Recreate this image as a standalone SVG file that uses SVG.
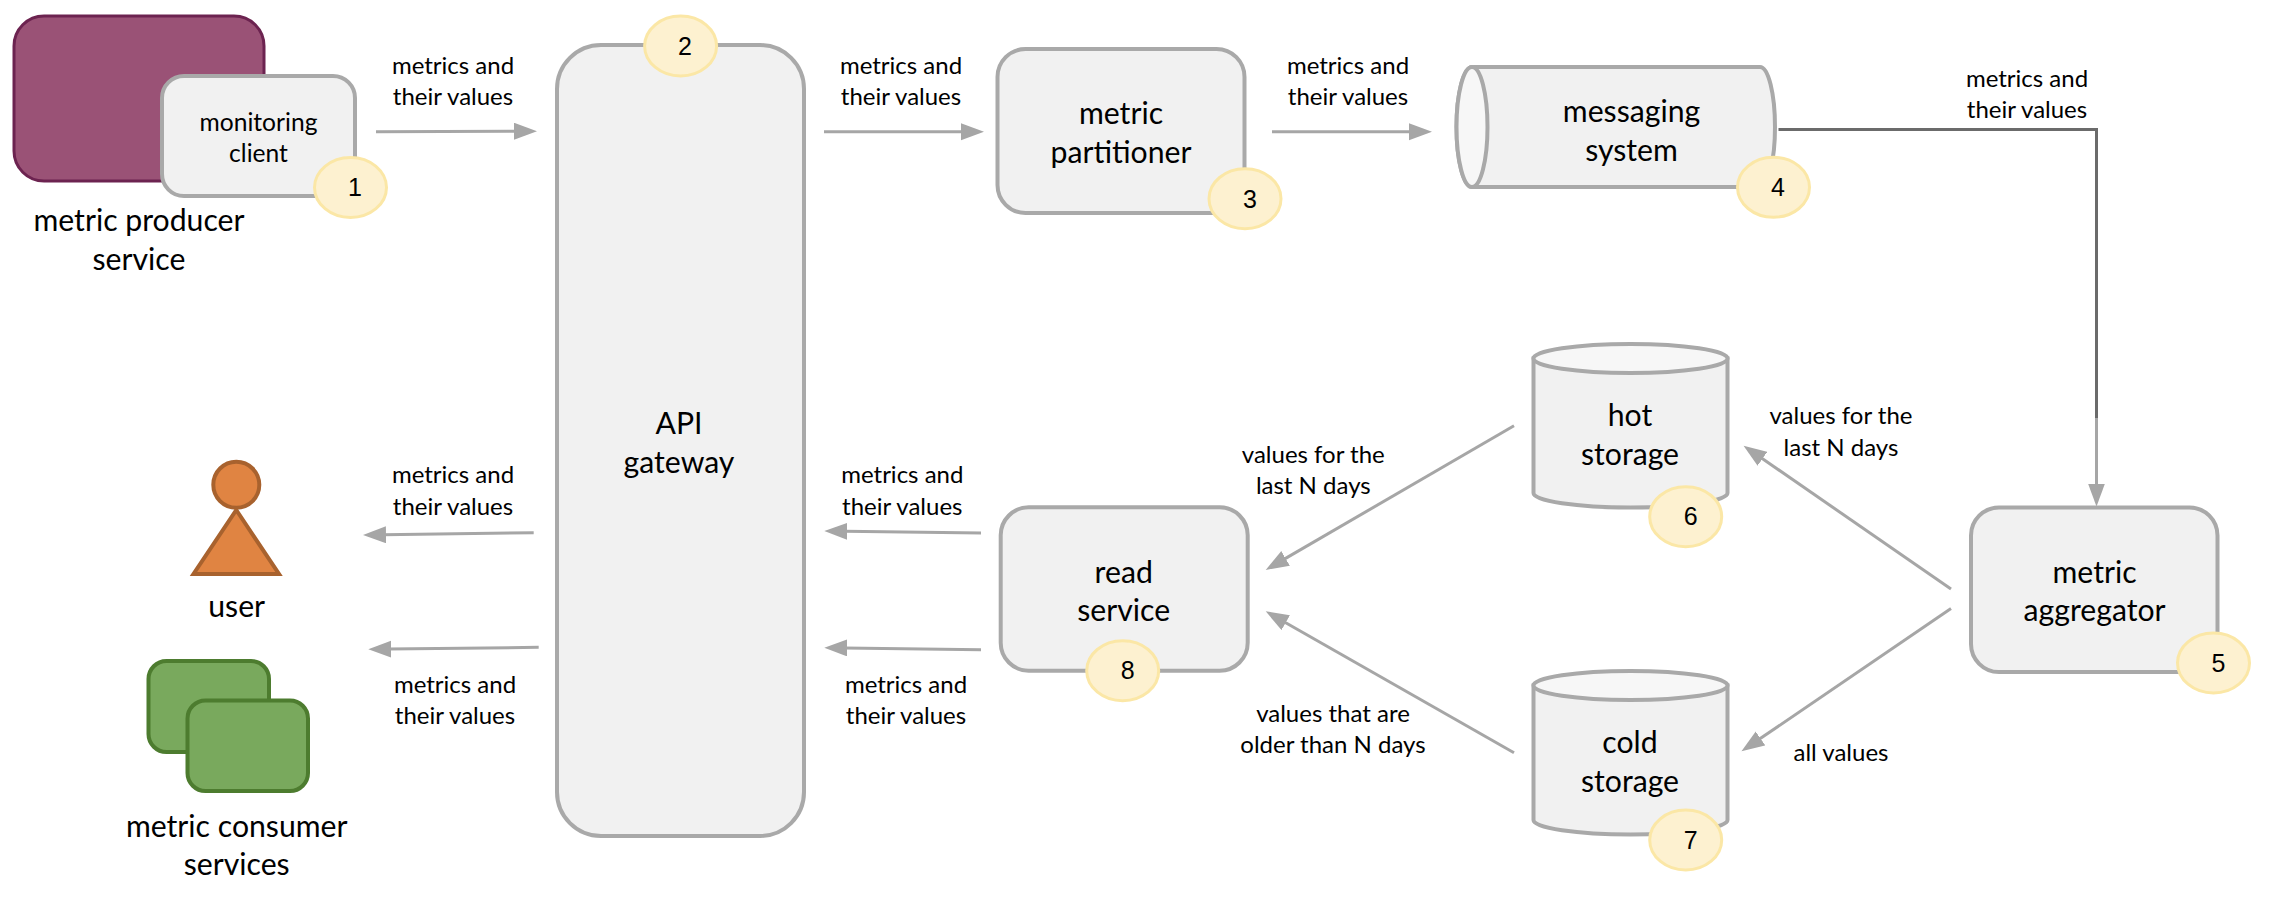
<svg xmlns="http://www.w3.org/2000/svg" width="2270" height="910" viewBox="0 0 2270 910">
<style>
text{font-family:Lato,"Liberation Sans",sans-serif;fill:#000;text-anchor:middle}
.s{font-size:24px}
.b{font-size:30.2px}
.m{font-size:24.6px}
.d{font-family:"Liberation Sans",Arial,sans-serif;font-size:25px}
.box{fill:#f1f1f1;stroke:#a9a9a9;stroke-width:4}
.cap{fill:#f7f7f7;stroke:#a9a9a9;stroke-width:4}
.badge{fill:#fdf1d0;stroke:#fbe7a6;stroke-width:3}
.c{fill:none;stroke:#a6a6a6;stroke-width:3;marker-end:url(#arrow)}
.purple{fill:#9a5276;stroke:#6c2350;stroke-width:3}
.green{fill:#79a95d;stroke:#4d7c2f;stroke-width:4}
.orange{fill:#e08442;stroke:#a8622e;stroke-width:4}
</style>
<defs>
<marker id="arrow" markerUnits="userSpaceOnUse" markerWidth="24" markerHeight="18" refX="3" refY="8.5" orient="auto">
<path d="M0,0 L23,8.5 L0,17Z" fill="#a6a6a6"/>
</marker>
</defs>
<g id="connectors">
<path class="c" d="M376,131.7 L517,131.2"/>
<path class="c" d="M824,131.7 L964,131.7"/>
<path class="c" d="M1272,131.7 L1412,131.7"/>
<path d="M1778.5,129.5 H2096.5 V420" fill="none" stroke="#6b6b6b" stroke-width="3"/>
<path class="c" d="M2096.5,418 V486.5"/>
<path class="c" d="M1951,589 L1760,457"/>
<path class="c" d="M1951,608.6 L1758,740.1"/>
<path class="c" d="M1514,425.7 L1283,559.9"/>
<path class="c" d="M1514,752.7 L1283.1,621.2"/>
<path class="c" d="M981,533 L844.3,531.2"/>
<path class="c" d="M981,649.7 L844.3,647.9"/>
<path class="c" d="M533.7,532.7 L383,534.8"/>
<path class="c" d="M538.7,647.3 L388.3,649.1"/>
</g>
<g id="labels">
<text class="s" x="453" y="73.5">metrics and</text><text class="s" x="453" y="104.5">their values</text>
<text class="s" x="901" y="73.5">metrics and</text><text class="s" x="901" y="104.5">their values</text>
<text class="s" x="1348" y="73.5">metrics and</text><text class="s" x="1348" y="104.5">their values</text>
<text class="s" x="2027" y="87">metrics and</text><text class="s" x="2027" y="118">their values</text>
<text class="s" x="453" y="482.5">metrics and</text><text class="s" x="453" y="514.5">their values</text>
<text class="s" x="455" y="692.5">metrics and</text><text class="s" x="455" y="724">their values</text>
<text class="s" x="902.3" y="482.5">metrics and</text><text class="s" x="902.3" y="514.5">their values</text>
<text class="s" x="906" y="692.5">metrics and</text><text class="s" x="906" y="724">their values</text>
<text class="s" x="1313.3" y="462.5">values for the</text><text class="s" x="1313.3" y="494">last N days</text>
<text class="s" x="1333" y="722">values that are</text><text class="s" x="1333" y="753">older than N days</text>
<text class="s" x="1841" y="424">values for the</text><text class="s" x="1841" y="455.5">last N days</text>
<text class="s" x="1841" y="761">all values</text>
</g>
<g id="producer">
<rect class="purple" x="14" y="16" width="250" height="165" rx="30" ry="30"/>
<text class="b" x="139" y="230.5">metric producer</text><text class="b" x="139" y="269.5">service</text>
</g>
<g id="client">
<rect class="box" x="162" y="76" width="193" height="120" rx="22" ry="22"/>
<text class="m" x="258.5" y="130.5">monitoring</text><text class="m" x="258.5" y="161.5">client</text>
<ellipse class="badge" cx="350.5" cy="187.5" rx="36" ry="30"/><text class="d" x="355" y="196">1</text>
</g>
<g id="gateway">
<rect class="box" x="557" y="45" width="247" height="791" rx="44" ry="44"/>
<text class="b" x="679" y="434">API</text><text class="b" x="679" y="472.5">gateway</text>
<ellipse class="badge" cx="680.6" cy="46" rx="36" ry="30"/><text class="d" x="685" y="54.5">2</text>
</g>
<g id="partitioner">
<rect class="box" x="997.5" y="49" width="247" height="164" rx="28" ry="28"/>
<text class="b" x="1121" y="124">metric</text><text class="b" x="1121" y="163">partitioner</text>
<ellipse class="badge" cx="1245" cy="198.7" rx="36" ry="30"/><text class="d" x="1250" y="207.7">3</text>
</g>
<g id="messaging">
<path class="box" d="M1472,67 H1760 A15,60 0 0 1 1760,187 H1472 A15.5,60 0 0 1 1472,67Z"/>
<ellipse class="cap" cx="1472" cy="127" rx="15.5" ry="60"/>
<text class="b" x="1631.5" y="121.5">messaging</text><text class="b" x="1631.5" y="160.5">system</text>
<ellipse class="badge" cx="1773.5" cy="187.3" rx="36" ry="30"/><text class="d" x="1778" y="196">4</text>
</g>
<g id="aggregator">
<rect class="box" x="1971" y="507.5" width="246.5" height="164.5" rx="28" ry="28"/>
<text class="b" x="2094.6" y="583">metric</text><text class="b" x="2094.6" y="620.5">aggregator</text>
<ellipse class="badge" cx="2213.5" cy="663" rx="36" ry="30"/><text class="d" x="2218.5" y="672">5</text>
</g>
<g id="hot">
<path class="box" d="M1533.5,358.5 V493 A97,14.5 0 0 0 1727.5,493 V358.5Z"/>
<ellipse class="cap" cx="1630.5" cy="358.5" rx="97" ry="14.5"/>
<text class="b" x="1630" y="425.5">hot</text><text class="b" x="1630" y="465">storage</text>
<ellipse class="badge" cx="1685.7" cy="516.7" rx="36" ry="30"/><text class="d" x="1690.7" y="525">6</text>
</g>
<g id="cold">
<path class="box" d="M1533.5,685.5 V820 A97,14.5 0 0 0 1727.5,820 V685.5Z"/>
<ellipse class="cap" cx="1630.5" cy="685.5" rx="97" ry="14.5"/>
<text class="b" x="1630" y="753">cold</text><text class="b" x="1630" y="792">storage</text>
<ellipse class="badge" cx="1685.7" cy="840" rx="36" ry="30"/><text class="d" x="1690.7" y="849">7</text>
</g>
<g id="read">
<rect class="box" x="1000.7" y="507.3" width="247" height="163.4" rx="28" ry="28"/>
<text class="b" x="1123.7" y="582.5">read</text><text class="b" x="1123.7" y="620.5">service</text>
<ellipse class="badge" cx="1122.7" cy="670.7" rx="36" ry="30"/><text class="d" x="1127.7" y="679">8</text>
</g>
<g id="user">
<path class="orange" d="M236.3,510 L279,574 H193.5Z"/>
<circle class="orange" cx="236.3" cy="484.8" r="23"/>
<text class="b" x="236.7" y="616.5">user</text>
</g>
<g id="consumers">
<rect class="green" x="148.5" y="661" width="120.5" height="91" rx="18" ry="18"/>
<rect class="green" x="187.5" y="700.5" width="120.5" height="90.5" rx="18" ry="18"/>
<text class="b" x="236.7" y="836.5">metric consumer</text><text class="b" x="236.7" y="874.5">services</text>
</g>
</svg>
